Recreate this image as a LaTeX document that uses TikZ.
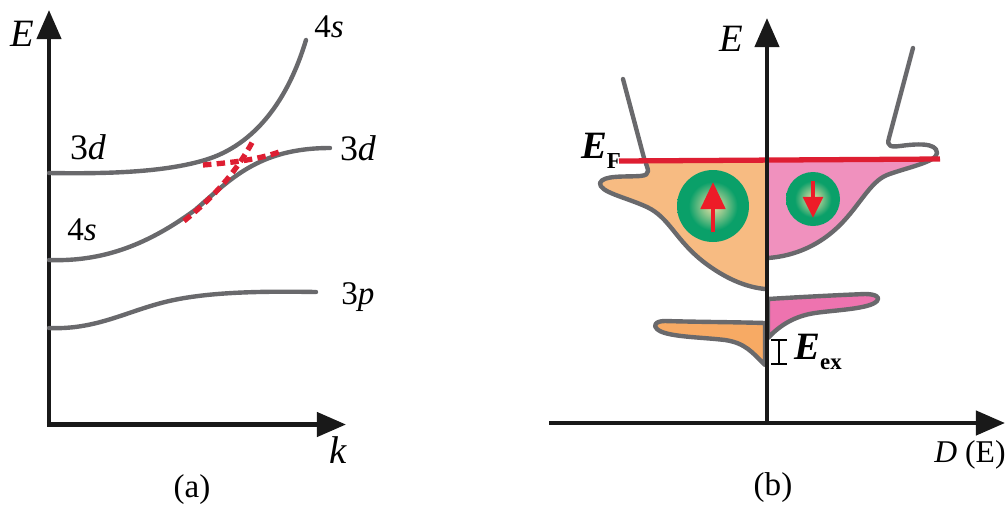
\documentclass[tikz,border=0pt]{standalone}
\usepackage{fontspec}
\setmainfont{Liberation Serif}
\usetikzlibrary{arrows.meta}
\definecolor{curvegray}{RGB}{105,105,108}
\definecolor{fermired}{RGB}{222,30,50}
\definecolor{spinred}{RGB}{237,28,40}
\definecolor{uporange}{RGB}{247,187,130}
\definecolor{downpink}{RGB}{240,145,190}
\definecolor{lowporange}{RGB}{247,170,100}
\definecolor{lowpink}{RGB}{238,115,175}
\definecolor{spingreen}{RGB}{10,160,105}
\definecolor{spinlight}{RGB}{235,225,165}
\pgfdeclareradialshading{spinball}{\pgfpointorigin}{
  color(0bp)=(spinlight); color(8bp)=(spinlight!55!spingreen);
  color(17bp)=(spingreen); color(50bp)=(spingreen)}
\tikzset{
  axisline/.style={line width=1.2pt, black!90, -{Triangle[length=0.29cm,width=0.24cm]}},
  band/.style={line width=1.25pt, curvegray, line cap=round, line join=round},
  hybrid/.style={line width=1.5pt, fermired, dash pattern=on 2.4pt off 1.5pt},
  spinarrow/.style={line width=1.4pt, spinred, -{Triangle[length=#1]}},
  lbl/.style={font=\fontsize{9.4}{11}\selectfont, inner sep=0pt},
  biglbl/.style={font=\fontsize{11}{13}\selectfont, inner sep=0pt}
}
\begin{document}
\begin{tikzpicture}[x=0.01cm, y=-0.01cm]
  \useasboundingbox (0,0) rectangle (1008,505);

  % Panel (a): axes
  \coordinate (aorigin) at (49,424.5);
  \coordinate (atop) at (49,10);
  \coordinate (aright) at (346,424.5);
  \draw[axisline] (aorigin) -- (atop);
  \draw[axisline] ([xshift=-0.02cm]aorigin) -- (aright);

  % Panel (a): bands
  \draw[band] (49,173) .. controls (110,174) and (165,172) .. (205,160) .. controls (255,145) and (288,100) .. (306,40);
  \draw[band] (49,260) .. controls (105,262) and (150,243) .. (195,210) .. controls (230,180) and (258,148) .. (330,148);
  \draw[band] (49,328) .. controls (95,330) and (125,312) .. (165,302) .. controls (205,292) and (260,291) .. (316,292);

  % Panel (a): dashed hybridization lines
  \coordinate (dashonea) at (184,221);
  \coordinate (dashoneb) at (254,139);
  \coordinate (dashtwoa) at (203,165);
  \coordinate (dashtwob) at (282,151);
  \draw[hybrid] (dashonea) .. controls (210,200) and (235,175) .. (dashoneb);
  \draw[hybrid] (dashtwoa) .. controls (225,163) and (255,161) .. (dashtwob);

  % Panel (a): labels
  \node[biglbl] (ea) at (22,34) {\textit{E}};
  \node[lbl] (foursa) at (329,27) {4\textit{s}};
  \node[lbl, font=\fontsize{10.2}{12}\selectfont] (threeda) at (88,147) {3\textit{d}};
  \node[lbl, font=\fontsize{10.2}{12}\selectfont] (threedb) at (358,148) {3\textit{d}};
  \node[lbl] (foursb) at (82,230) {4\textit{s}};
  \node[lbl] (threep) at (358,297) {3\textit{p}};
  \node[biglbl] (ka) at (338,450) {\textit{k}};
  \node[lbl] (capa) at (192,490) {(a)};

  % Panel (b): spin-up fill
  \fill[uporange] (645,161) .. controls (648,170) and (652,175) .. (640,176) .. controls (625,177) and (603,175) .. (600,183) .. controls (599,192) and (625,197) .. (647,207) .. controls (670,218) and (675,240) .. (705,263) .. controls (725,278) and (745,287) .. (765,289) -- (765,161) -- cycle;
  % Panel (b): spin-down fill
  \fill[downpink] (768,160) -- (932,160) .. controls (915,165) and (900,170) .. (887,175) .. controls (870,182) and (860,205) .. (840,225) .. controls (820,245) and (795,256) .. (768,258) -- cycle;

  % Panel (b): density of states outlines
  \draw[band] (623,79) -- (644,158) .. controls (648,170) and (652,175) .. (640,176) .. controls (625,177) and (603,175) .. (600,183) .. controls (599,192) and (625,197) .. (647,207) .. controls (670,218) and (675,240) .. (705,263) .. controls (725,278) and (745,287) .. (765,289);
  \draw[band] (913,48) -- (889,138) .. controls (886,147) and (892,147) .. (900,146) .. controls (915,144) and (937,142) .. (937,153) .. controls (937,162) and (905,168) .. (887,175) .. controls (870,182) and (860,205) .. (840,225) .. controls (820,245) and (795,256) .. (768,258);

  % Panel (b): lower band
  \draw[band, fill=lowpink] (768,299) .. controls (800,297) and (840,295) .. (865,294) .. controls (875,294) and (881,297) .. (877,301) .. controls (870,309) and (835,310) .. (815,313) .. controls (795,316) and (780,325) .. (768,338) -- cycle;
  \draw[band, fill=lowporange] (765,323) .. controls (730,322) and (700,322) .. (665,321) .. controls (655,321) and (653,326) .. (657,329) .. controls (665,337) and (700,337) .. (725,340) .. controls (745,343) and (752,352) .. (765,365) -- cycle;

  % Panel (b): spin balls
  \shade[shading=spinball] (713,206) circle (36);
  \shade[shading=spinball] (813,199) circle (27);
  \coordinate (upa) at (713,232);
  \coordinate (upb) at (713,182);
  \coordinate (downa) at (813,181);
  \coordinate (downb) at (813,218);
  \draw[spinarrow={0.27cm,width=0.24cm}] (upa) -- (upb);
  \draw[spinarrow={0.21cm,width=0.19cm}] (downa) -- (downb);

  % Panel (b): Fermi level
  \coordinate (fermia) at (619,161);
  \coordinate (fermib) at (940,159);
  \draw[line width=1.5pt, fermired] (fermia) -- (fermib);

  % Panel (b): axes
  \coordinate (borigin) at (767,423);
  \coordinate (btop) at (767,18);
  \coordinate (bleft) at (549,423);
  \coordinate (bright) at (1005,423);
  \draw[axisline] (borigin) -- (btop);
  \draw[axisline] (bleft) -- (bright);

  % Panel (b): exchange splitting bracket
  \coordinate (exa) at (779,339);
  \coordinate (exb) at (779,365);
  \draw[line width=0.7pt, {Bar[width=0.15cm]}-{Bar[width=0.15cm]}] (exa) -- (exb);

  % Panel (b): labels
  \node[biglbl] (eb) at (731,39) {\textit{E}};
  \node[biglbl] (ef) at (601,151) {\textbf{\textit{E}}\raisebox{-3pt}{\fontsize{6.5}{7}\selectfont\textbf{F}}};
  \node[biglbl] (eex) at (818,352) {\textbf{\textit{E}}\raisebox{-3pt}{\fontsize{6.5}{7}\selectfont\textbf{ex}}};
  \node[lbl, font=\fontsize{9}{11}\selectfont] (db) at (970,455) {\textit{D} (E)};
  \node[lbl] (capb) at (773,488) {(b)};
\end{tikzpicture}
\end{document}
